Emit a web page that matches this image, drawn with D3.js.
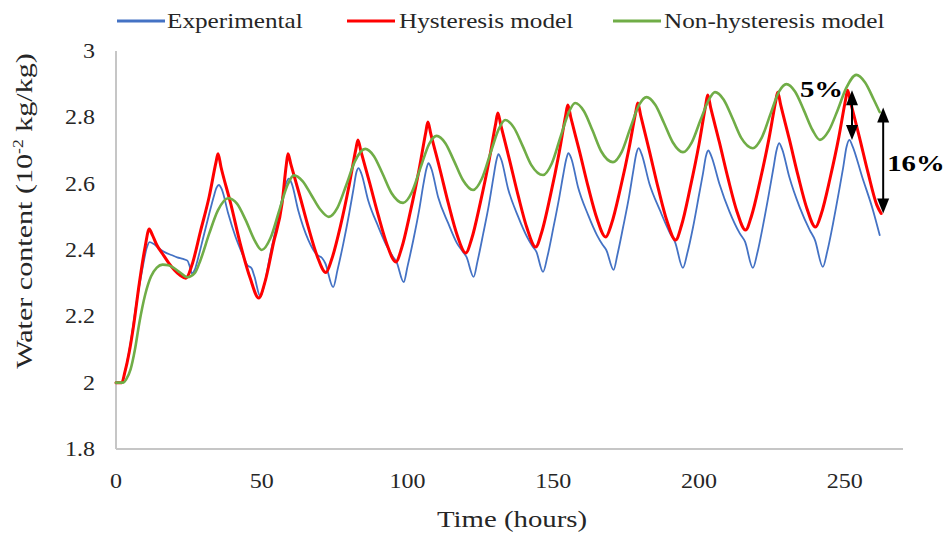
<!DOCTYPE html>
<html>
<head>
<meta charset="utf-8">
<script src="https://cdn.jsdelivr.net/npm/d3@7"></script>
<style>
  body { margin: 0; background: #fff; }
  svg { display: block; }
  text { font-family: "Liberation Serif", "Times New Roman", serif; fill: #262626; }
</style>
</head>
<body>
<svg id="chart" width="951" height="533"></svg>
<script>
// Axis ticks
const xTicks = [0, 50, 100, 150, 200, 250];
const yTicks = [1.8, 2, 2.2, 2.4, 2.6, 2.8, 3];

// Series: [time (h), water content (10^-2 kg/kg)]
const experimental = [
  [0,2.0],[2,2.0],[3,2.03],[5,2.12],[7,2.24],[9,2.34],[10.5,2.405],[11.5,2.424],[13,2.418],[15,2.403],[17,2.392],[19,2.385],[21,2.378],[23,2.373],[24.5,2.368],[25.3,2.35],[26,2.33],[27,2.34],
  [28,2.37],[30,2.44],[32,2.51],[33.5,2.56],[34.5,2.588],[35.3,2.596],[36.3,2.583],[38.5,2.51],[41,2.44],[43.5,2.385],[45,2.355],[46.5,2.345],[47.5,2.32],[49.5,2.26],
  [51,2.3],[53,2.39],[55,2.47],[57,2.555],[58.3,2.6],[59.3,2.615],[60.3,2.6],[62.5,2.52],[66,2.43],[69,2.385],[70.7,2.376],[71.8,2.36],[74.5,2.288],
  [76,2.34],[78,2.42],[80,2.51],[81.5,2.585],[82.5,2.635],[83.2,2.647],[84.2,2.63],[86.5,2.55],[90,2.47],[93,2.41],[95,2.38],[96.2,2.365],[98.7,2.303],
  [100,2.35],[102,2.43],[104,2.52],[105.5,2.6],[106.5,2.645],[107.2,2.662],[108.2,2.645],[110.5,2.56],[114,2.48],[117,2.42],[119,2.395],[120.2,2.38],[122.7,2.319],
  [124,2.365],[126,2.45],[128,2.54],[129.5,2.62],[130.5,2.67],[131.2,2.689],[132.2,2.672],[134.5,2.585],[138,2.5],[141,2.44],[143,2.41],[144.2,2.395],[146.5,2.334],
  [148,2.38],[150,2.465],[152,2.555],[153.5,2.63],[154.5,2.675],[155.2,2.692],[156.2,2.676],[158.5,2.59],[162,2.505],[165,2.445],[167,2.415],[168.2,2.4],[170.7,2.34],
  [172,2.385],[174,2.47],[176,2.56],[177.5,2.64],[178.5,2.69],[179.3,2.707],[180.3,2.69],[183,2.6],[186.6,2.52],[190,2.452],[191.8,2.424],[194.5,2.346],
  [196,2.39],[198,2.47],[200,2.565],[201.4,2.632],[202.4,2.683],[203.2,2.7],[204.2,2.684],[207,2.6],[210.5,2.515],[214,2.45],[215.8,2.425],[218.5,2.346],
  [220,2.39],[222,2.475],[224,2.57],[225.5,2.645],[226.6,2.7],[227.5,2.722],[228.5,2.705],[231,2.62],[234.5,2.53],[238,2.46],[239.8,2.43],[242.5,2.349],
  [244,2.395],[246,2.48],[248,2.575],[249.5,2.65],[250.6,2.71],[251.6,2.732],[252.6,2.715],[256,2.62],[259.7,2.52],[262,2.445]
];

const hysteresis = [
  [0,2.0],[2,2.0],[3,2.03],[4.5,2.09],[6,2.17],[8,2.3],[10,2.41],[11.4,2.463],[12.5,2.445],[14,2.415],[16,2.388],[18,2.362],[20,2.34],[22,2.324],[24,2.315],
  [26,2.353],[29,2.457],[32,2.562],[34.3,2.664],[35,2.69],[36,2.651],[39.4,2.538],[42.6,2.42],[46,2.316],[49,2.255],
  [51,2.3],[54,2.42],[57,2.542],[58.4,2.655],[59,2.69],[60,2.658],[63,2.565],[66,2.468],[69,2.382],[72,2.332],
  [74,2.372],[77,2.472],[80,2.596],[82.3,2.704],[83,2.732],[84,2.699],[87,2.603],[90,2.504],[93,2.416],[96,2.364],
  [98,2.406],[101,2.516],[104,2.643],[106.3,2.756],[107,2.786],[108,2.75],[111,2.648],[114,2.541],[117,2.446],[120,2.391],
  [122,2.433],[125,2.543],[128,2.67],[130.3,2.783],[131,2.813],[132,2.777],[135,2.672],[138,2.563],[141,2.466],[144,2.409],
  [146,2.452],[149,2.563],[152,2.692],[154.3,2.807],[155,2.837],[156,2.801],[159,2.698],[162,2.59],[165,2.495],[168,2.439],
  [170,2.479],[173,2.584],[176,2.706],[178.3,2.815],[179,2.843],[180,2.806],[183,2.698],[186,2.587],[189,2.488],[192,2.43],
  [194,2.474],[197,2.588],[200,2.718],[202.3,2.836],[203,2.867],[204,2.83],[207,2.725],[210,2.615],[213,2.517],[216,2.46],
  [218,2.502],[221,2.61],[224,2.735],[226.3,2.847],[227,2.876],[228,2.839],[231,2.734],[234,2.624],[237,2.526],[240,2.469],
  [242,2.51],[245,2.617],[248,2.741],[250.3,2.853],[251,2.882],[252,2.846],[255,2.742],[258,2.633],[261,2.536],[262.5,2.51]
];

const nonHysteresis = [
  [0,2.0],[2.5,2.0],[3.5,2.01],[5,2.04],[6.5,2.1],[8,2.18],[10,2.265],[12,2.32],[14,2.347],[16,2.356],[18,2.354],[20,2.345],[22,2.332],[24.5,2.318],
  [27,2.33],[29,2.37],[32,2.45],[35,2.52],[38.5,2.556],[41.5,2.54],[44.5,2.49],[47.5,2.43],[50,2.4],
  [53,2.436],[56,2.519],[59,2.599],[61,2.625],[64,2.608],[67,2.566],[70,2.523],[73,2.5],
  [76,2.528],[79,2.596],[82,2.668],[85.5,2.705],[88.5,2.683],[91.5,2.629],[94.5,2.572],[98.5,2.542],
  [101.5,2.574],[104.5,2.649],[107.5,2.721],[110,2.744],[113,2.722],[116,2.668],[119,2.611],[122.5,2.581],
  [125.5,2.615],[128.5,2.693],[131.5,2.768],[133.5,2.792],[136.5,2.769],[139.5,2.714],[142.5,2.656],[146.5,2.626],
  [149.5,2.661],[152.5,2.741],[155.5,2.818],[157.5,2.843],[160.5,2.819],[163.5,2.76],[166.5,2.697],[170.5,2.665],
  [173.5,2.696],[176.5,2.769],[179.5,2.838],[182,2.861],[185,2.838],[188,2.783],[191,2.725],[194.5,2.695],
  [197.5,2.724],[200.5,2.791],[203.5,2.855],[205.5,2.876],[208.5,2.853],[211.5,2.797],[214.5,2.738],[218.5,2.707],
  [221.5,2.738],[224.5,2.809],[227.5,2.878],[230,2.9],[233,2.877],[236,2.821],[239,2.761],[241.5,2.732],
  [244.5,2.759],[247.5,2.82],[250.5,2.888],[254,2.928],[257,2.905],[260,2.853],[262,2.816]
];

const series = [
  { name: "Experimental", data: experimental, color: "#4472c4", width: 1.8 },
  { name: "Hysteresis model", data: hysteresis, color: "#ff0000", width: 3 },
  { name: "Non-hysteresis model", data: nonHysteresis, color: "#70ad47", width: 2.6 }
];

// Difference markers: [time, upper value, lower value, label]
const gapMarkers = [
  { t: 252.5, hi: 2.882, lo: 2.732, label: "5%", labelDx: -52, labelY: 2.862 },
  { t: 263.2, hi: 2.83, lo: 2.51, label: "16%", labelDx: 4, labelY: 2.638 }
];

const svg = d3.select("#chart");
const x = d3.scaleLinear().domain([0, 270]).range([116, 903]);
const y = d3.scaleLinear().domain([1.8, 3]).range([449, 51]);

// Text with the wide letterforms of the figure
function label(g, px, py, str, size, anchor, sx, rot, weight) {
  const t = g.append("text")
    .attr("transform", `translate(${px},${py})` + (rot ? ` rotate(${rot})` : "") + ` scale(${sx},1)`)
    .attr("text-anchor", anchor)
    .style("font-size", size + "px");
  if (weight) t.style("font-weight", weight).style("fill", "#000");
  t.text(str);
  return t;
}

// Axes
const axisColor = "#c6c6c6";
svg.append("line").attr("x1", x(0)).attr("x2", x(270)).attr("y1", y(1.8)).attr("y2", y(1.8))
  .attr("stroke", axisColor).attr("stroke-width", 2);
svg.append("line").attr("x1", x(0)).attr("x2", x(0)).attr("y1", y(1.8)).attr("y2", y(3))
  .attr("stroke", axisColor).attr("stroke-width", 2);

const tickG = svg.append("g");
yTicks.forEach(v => label(tickG, 95, y(v) + 7, d3.format("~g")(v), 20, "end", 1.2));
xTicks.forEach(v => label(tickG, x(v), 488, String(v), 20, "middle", 1.2));

// Axis titles
label(svg, 512, 527, "Time (hours)", 24, "middle", 1.2);
const yt = svg.append("text")
  .attr("transform", "translate(32,211) rotate(-90) scale(1.255,1)")
  .attr("text-anchor", "middle")
  .style("font-size", "24px");
yt.append("tspan").text("Water content (10");
yt.append("tspan").attr("dy", -9).style("font-size", "14px").text("-2");
yt.append("tspan").attr("dy", 9).text(" kg/kg)");

// Lines
const line = d3.line().x(d => x(d[0])).y(d => y(d[1])).curve(d3.curveMonotoneX);
svg.append("g").selectAll("path").data(series).join("path")
  .attr("d", s => line(s.data))
  .attr("fill", "none")
  .attr("stroke", s => s.color)
  .attr("stroke-width", s => s.width)
  .attr("stroke-linejoin", "round")
  .attr("stroke-linecap", "round");

// Legend
const legendItems = [
  { x0: 117, tx: 167 },
  { x0: 347, tx: 399 },
  { x0: 613, tx: 664 }
];
const lg = svg.append("g");
series.forEach((s, i) => {
  const it = legendItems[i];
  lg.append("line").attr("x1", it.x0).attr("x2", it.x0 + 48).attr("y1", 21).attr("y2", 21)
    .attr("stroke", s.color).attr("stroke-width", 3);
  label(lg, it.tx, 28, s.name, 21, "start", 1.2);
});

// Difference arrows
const ag = svg.append("g");
gapMarkers.forEach(m => {
  const px = x(m.t);
  ag.append("line")
    .attr("x1", px).attr("x2", px)
    .attr("y1", y(m.hi) + 13).attr("y2", y(m.lo) - 13)
    .attr("stroke", "#000").attr("stroke-width", 2);
  ag.append("path").attr("d", `M${px},${y(m.hi)} l-6,15 l12,0 Z`).attr("fill", "#000");
  ag.append("path").attr("d", `M${px},${y(m.lo)} l-6,-15 l12,0 Z`).attr("fill", "#000");
  label(ag, px + m.labelDx, y(m.labelY), m.label, 23, "start", 1.25, 0, "bold");
});
</script>
</body>
</html>
